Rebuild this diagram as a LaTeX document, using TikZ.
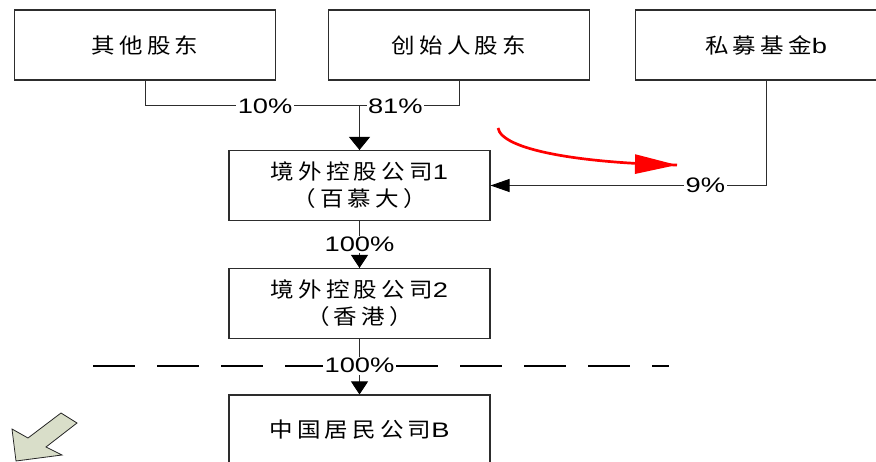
\documentclass[tikz,border=0pt]{standalone}
\usepackage{fontspec}
\setmainfont{Liberation Sans}[FakeStretch=1.3]
\newfontfamily\zh{Noto Sans CJK SC}[FakeStretch=1.12,LetterSpace=20]
\usepackage{tikz}
\usetikzlibrary{calc}
\usetikzlibrary{arrows.meta}
\usetikzlibrary{decorations.markings}
\usepackage{xcolor}
\definecolor{mySage}{RGB}{217,222,201}
\definecolor{myLine}{RGB}{45,45,45}
\tikzset{
  share box/.style={
    draw=myLine, line width=1.1pt,
    minimum width=261pt, minimum height=70pt,
    align=center, inner sep=0pt,
    font=\fontsize{21}{27}\selectfont
  },
  share line/.style={draw=myLine, line width=0.9pt},
  share pct/.style={
    fill=white, inner sep=1.5pt,
    font=\fontsize{21}{24}\selectfont
  },
  share arrow/.style={postaction={decorate, decoration={
      markings,
      mark=at position 1 with {\arrow[black]{Triangle[#1]}}}}},
  share arrow/.default={length=13pt,width=17pt},
  border line/.style={line width=2pt, dash pattern=on 42pt off 22pt},
}

\begin{document}
\begin{tikzpicture}[x=1pt,y=1pt]

%%%%%%%%%%%%%%%%%%%%%%%%%%%%%%%%%%%%%%%%%%%%%%%%%%%%%%%%%%%%%% Setup
\coordinate (C) at (0, 0);
% picture frame, same size as the reference
\useasboundingbox ($(C)$) rectangle ($(C)+(876,-462)$);

%%%%%%%%%%%%%%%%%%%%%%%%%%%%%%%%%%%%%%%%%%%%%%%%%%%%%%%%%%%%%% Shareholders
\node[share box] (oth) at ($(C)+(145,-45)$) {{\zh 其他股东}};
\node[share box] (fnd) at ($(C)+(459,-45)$) {{\zh 创始人股东}};
\node[share box] (pe)  at ($(C)+(766,-45)$) {{\zh 私募基金}b};

%%%%%%%%%%%%%%%%%%%%%%%%%%%%%%%%%%%%%%%%%%%%%%%%%%%%%%%%%%%%%% Companies
\node[share box] (hk1) at ($(C)+(359.5,-185.5)$) {{\zh 境外控股公司}1\\{\zh （百慕大）}};
\node[share box] (hk2) at ($(C)+(359.5,-303.5)$) {{\zh 境外控股公司}2\\{\zh （香港）}};
\node[share box] (cnb) at ($(C)+(359.5,-430)$) {{\zh 中国居民公司}B};

%%%%%%%%%%%%%%%%%%%%%%%%%%%%%%%%%%%%%%%%%%%%%%%%%%%%%%%%%%%%%% Holdings
\coordinate (j) at ($(hk1.north)+(0,44)$);
\draw[share line] (oth.south) |- node[share pct, pos=0.78] (l10) {10\%} (j);
\draw[share line] (fnd.south) |- node[share pct, pos=0.82] (l81) {81\%} (j);
\draw[share line, share arrow={length=13pt,width=21pt}] (j) -- (hk1.north);

\draw[share line, share arrow={length=19pt,width=13pt}] (pe.south) |- node[share pct, pos=0.61] (l9) {9\%} (hk1.east);

\draw[share line, share arrow] (hk1.south) -- node[share pct] (l100a) {100\%} (hk2.north);
\draw[share line, share arrow] (hk2.south) -- node[share pct, yshift=1pt] (l100b) {100\%} (cnb.north);

% border between offshore and onshore
\draw[border line] ($(C)+(93,-366)$) -- (l100b.west |- 0,-366);
\draw[border line] (l100b.east |- 0,-366) -- ($(C)+(669,-366)$);

%%%%%%%%%%%%%%%%%%%%%%%%%%%%%%%%%%%%%%%%%%%%%%%%%%%%%%%%%%%%%% Marks
\coordinate (rs) at ($(C)+(498,-128)$);
\coordinate (re) at ($(C)+(677,-165)$);
\draw[red, line width=2.7pt, postaction={decorate, decoration={
    markings,
    mark=at position 1 with {\arrow{Triangle[length=42pt,width=19pt]}}}}]
  (rs) .. controls ($(rs)+(4,-22)$) and ($(re)+(-97,2)$) .. (re);

\draw[black!85, fill=mySage, line width=0.8pt]
  ($(C)+(61,-413)$) -- ($(C)+(77,-423)$) -- ($(C)+(46,-447)$) -- ($(C)+(62,-455)$)
  -- ($(C)+(16,-461)$) -- ($(C)+(12,-429)$) -- ($(C)+(28,-438)$) -- cycle;

\end{tikzpicture}
\end{document}
